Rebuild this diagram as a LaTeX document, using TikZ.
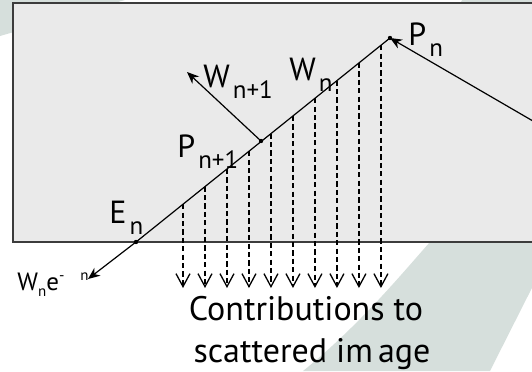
\documentclass[tikz,border=0pt]{standalone}
\usepackage{fontspec}
\setmainfont{PT Sans}
\usetikzlibrary{arrows.meta, calc}

\definecolor{swoosh}{HTML}{D6DFDC}
\definecolor{boxgray}{HTML}{EAEAEA}
\definecolor{edgegray}{HTML}{3C3C3C}

\newcommand\lsub[1]{\kern1.5pt\raisebox{-5.5pt}{\fontsize{12.5}{13}\selectfont #1}}

\begin{document}
\begin{tikzpicture}[x=0.5pt, y=-0.5pt, >={Stealth[length=6pt,width=5pt]},
    lbl/.style={inner sep=0pt, anchor=base west, font=\fontsize{16}{18}\selectfont},
    ray/.style={line width=0.6pt, black},
    contrib/.style={dash pattern=on 2.6pt off 1.6pt, line width=0.65pt, black,
      -{Straight Barb[length=6.5pt,width=7pt]}}]
    \useasboundingbox (0,0) rectangle (532,371);
    \clip (0,0) rectangle (532,371);
    % background swoosh
    \fill[swoosh] (0,0) -- (125,0) -- (0,36) -- cycle;
    \fill[swoosh] (462,0) -- (540,0) -- (540,8) -- (458,8) -- cycle;
    \fill[swoosh] (430,242) .. controls (405,270) and (360,325) .. (303,371)
        -- (490,371) -- (540,272) -- (540,200) -- (460,200) -- cycle;
    % sample
    \draw[edgegray, line width=0.9pt, fill=boxgray] (13,3) rectangle (545,242);

    \coordinate (En) at (136,242);
    \coordinate (Pn) at (390,38);
    \coordinate (Pn1) at (261,141);
    \coordinate (outEn) at (88,279);
    \coordinate (inPn) at (545,128);
    \coordinate (outPn1) at (187,72);
    \coordinate (base) at (0,288);

    % contributions
    \foreach \i in {0,...,9} {
        \pgfmathsetmacro\p{0.185+0.0866*\i}
        \path (En) -- (Pn) coordinate[pos=\p] (d\i);
        \draw[contrib] (d\i) -- (d\i |- base);
    }

    \draw[ray] (En) -- (Pn);
    \draw[ray, ->] (En) -- (outEn);
    \draw[ray, ->] (inPn) -- (Pn);
    \draw[ray, ->] (Pn1) -- (outPn1);
    \foreach \c in {En, Pn, Pn1} \fill (\c) circle (1.1pt);

    \node[lbl] (lEn) at (109,223) {E\lsub{n}};
    \node[lbl] (lPn1) at (177,157) {P\lsub{n+1}};
    \node[lbl] (lWn1) at (203,87) {W\lsub{n+1}};
    \node[lbl] (lWn) at (289,80) {W\lsub{n}};
    \node[lbl] (lPn) at (408,45) {P\lsub{n}};
    \node[lbl, font=\fontsize{12.5}{14}\selectfont] (lAtt) at (17,290)
        {W\raisebox{-3pt}{\fontsize{7.5}{8}\selectfont n}e\raisebox{5pt}{\fontsize{7.5}{8}\selectfont -\hspace{8pt}n}};
    \node[inner sep=0pt, anchor=base, font=\fontsize{17}{19}\selectfont] (cap1) at (306,320) {Contributions to};
    \node[inner sep=0pt, anchor=base, font=\fontsize{17}{19}\selectfont] (cap2) at (312,362) {scattered im\hspace{0.15em}age};
\end{tikzpicture}
\end{document}
